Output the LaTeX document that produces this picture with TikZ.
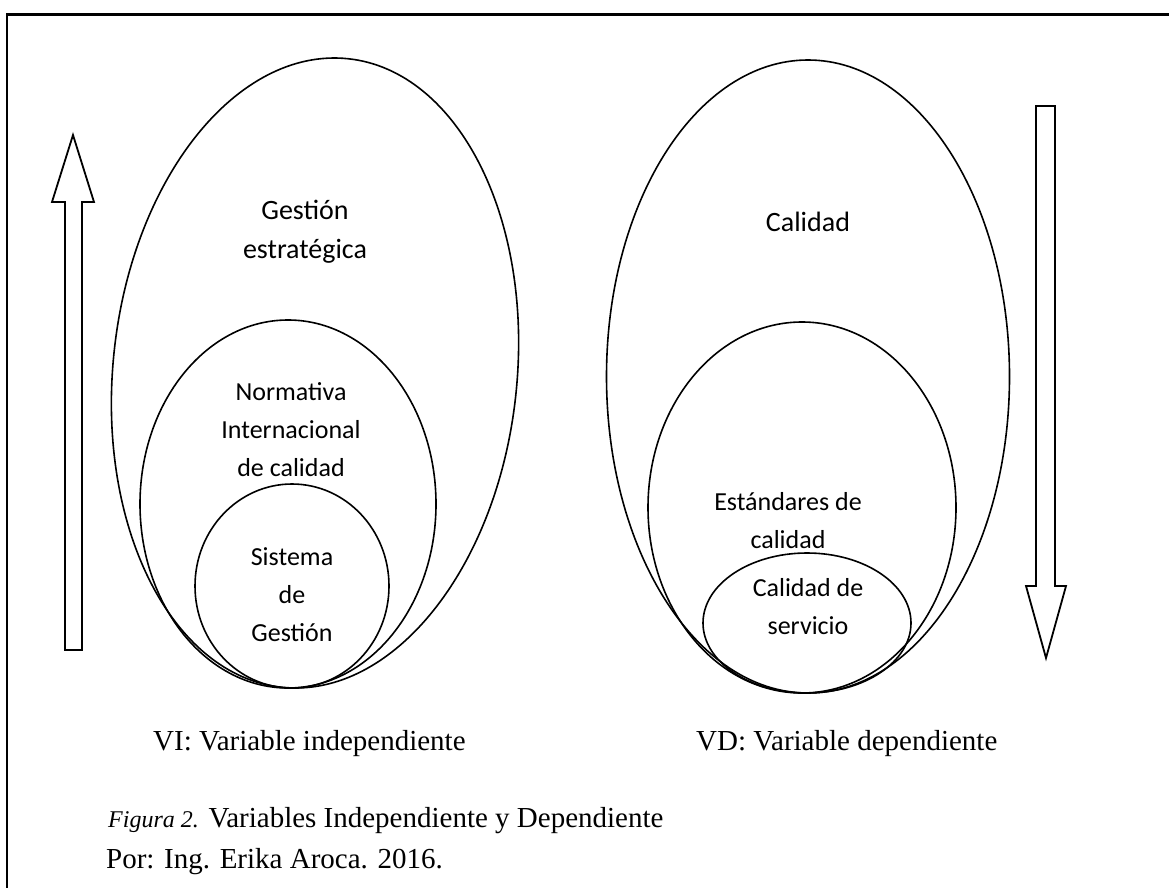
\documentclass[tikz,border=0pt]{standalone}
\usepackage{fontspec}
\setmainfont{Liberation Serif}
\newfontfamily\calfont{Carlito}
\usetikzlibrary{shapes.geometric}
\begin{document}
\begin{tikzpicture}[x=1pt,y=-1pt,
  oval/.style={draw, ellipse, line width=1.6pt, inner sep=0pt},
  lbl/.style={font=\calfont\fontsize{26}{38}\selectfont, align=center, inner sep=0pt},
  toplbl/.style={font=\calfont\fontsize{28}{39}\selectfont, align=center, inner sep=0pt},
  serif/.style={font=\fontsize{29}{34}\selectfont, inner sep=0pt, anchor=base west},
  bigarrow/.style={draw, line width=1.8pt, line join=miter}]
\useasboundingbox (0,0) rectangle (1169,888);
% frame
\draw[line width=2.7pt] (7,888) -- (7,14.5) -- (1169,14.5);
% left ellipses (tangent at the bottom)
\node[oval, minimum width=404pt, minimum height=632pt, rotate=-6] (bigL) at (315,373) {};
\node[oval, minimum width=296pt, minimum height=368pt] (midL) at (288,504) {};
\node[oval, minimum width=194pt, minimum height=204pt] (smallL) at (292,586) {};
% right ellipses (tangent at the bottom)
\node[oval, minimum width=403pt, minimum height=633pt] (bigR) at (808,376.5) {};
\node[oval, minimum width=308pt, minimum height=371pt] (midR) at (802,507.5) {};
\node[oval, minimum width=208pt, minimum height=140pt] (smallR) at (807,623) {};
% texts in ellipses
\node[toplbl] (tGE) at (305,232) {Gestión\\estratégica};
\node[lbl] (tNI) at (291,430) {Normativa\\Internacional\\de calidad};
\node[lbl] (tSG) at (292,595) {Sistema\\de\\Gestión};
\node[toplbl] (tC) at (808,222) {Calidad};
\node[lbl] (tEC) at (788,521) {Estándares de\\calidad};
\node[lbl] (tCS) at (808,607) {Calidad de\\servicio};
% arrows
\draw[bigarrow] (65,650) -- (65,202) -- (52,202) -- (73,135) -- (94,202) -- (82,202) -- (82,650) -- cycle;
\draw[bigarrow] (1036,106) -- (1036,586) -- (1026,586) -- (1046,658) -- (1066,586) -- (1055,586) -- (1055,106) -- cycle;
% bottom labels
\node[serif] (vi) at (153,750) {VI: Variable independiente};
\node[serif] (vd) at (696,750) {VD: Variable dependiente};
\node[serif] (cap) at (108,827) {{\itshape\fontsize{24}{28}\selectfont Figura 2.} Variables Independiente y Dependiente};
\node[serif] (por) at (106,868) {Por: Ing. Erika Aroca. 2016.};
\end{tikzpicture}
\end{document}
